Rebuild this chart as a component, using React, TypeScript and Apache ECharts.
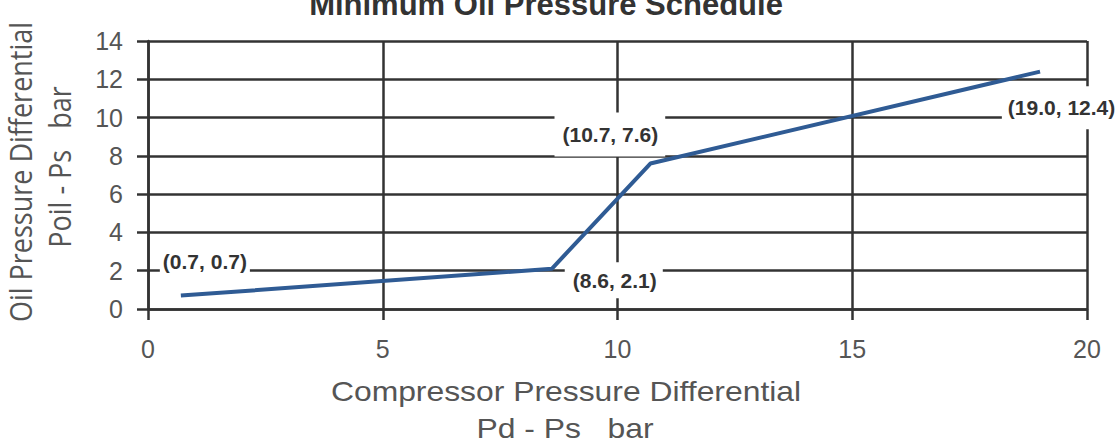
import React, { useEffect, useRef } from "react";
import * as echarts from "echarts";

const chartTitle = "Minimum Oil Pressure Schedule";
const xAxisTitle = ["Compressor Pressure Differential", "Pd - Ps   bar"];
const yAxisTitle = ["Oil Pressure Differential", "Poil - Ps   bar"];

const pdPs = [0.7, 8.6, 10.7, 19.0];
const poilPs = [0.7, 2.1, 7.6, 12.4];

const xMin = 0;
const xMax = 20;
const xStep = 5;
const yMin = 0;
const yMax = 14;
const yStep = 2;

// label placement (box offsets in px, padding [t, r, b, l])
const labelOffsets = [
  [24, -34.5],
  [62, 11.5],
  [-40.5, -29],
  [20.5, 36],
];
const labelPaddings = [
  [2, 3, 5, 3],
  [9, 6, 6, 8],
  [14, 7, 9, 8],
  [14, 4, 8, 6],
];

const GRID = "#333333";
const TXT = "#555555";
const sans = "'Liberation Sans', Arial, Helvetica, sans-serif";
const open = "'Open Sans', 'Noto Sans', sans-serif";

export default function App() {
  const ref = useRef<HTMLDivElement>(null);

  useEffect(() => {
    if (!ref.current) return;
    const chart = echarts.init(ref.current, null, { renderer: "svg" });
    const points = pdPs.map((x, i) => [x, poilPs[i]]);

    const titleGraphics: any[] = [
      {
        type: "text",
        x: 546,
        y: 4,
        style: {
          text: chartTitle,
          font: `bold 31px ${sans}`,
          fill: "#333333",
          textAlign: "center",
          textVerticalAlign: "middle",
        },
      },
      {
        type: "text",
        x: 566,
        y: 391,
        scaleX: 1.18,
        style: {
          text: xAxisTitle[0],
          font: `27px ${sans}`,
          fill: TXT,
          textAlign: "center",
          textVerticalAlign: "middle",
        },
      },
      {
        type: "text",
        x: 565,
        y: 428,
        scaleX: 1.18,
        style: {
          text: xAxisTitle[1],
          font: `27px ${sans}`,
          fill: TXT,
          textAlign: "center",
          textVerticalAlign: "middle",
        },
      },
      {
        type: "text",
        x: 20,
        y: 172,
        rotation: Math.PI / 2,
        scaleY: 1.15,
        style: {
          text: yAxisTitle[0],
          font: `27px ${open}`,
          fill: TXT,
          textAlign: "center",
          textVerticalAlign: "middle",
        },
      },
      {
        type: "text",
        x: 59,
        y: 167,
        rotation: Math.PI / 2,
        scaleY: 1.15,
        style: {
          text: yAxisTitle[1],
          font: `27px ${open}`,
          fill: TXT,
          textAlign: "center",
          textVerticalAlign: "middle",
        },
      },
    ];

    chart.setOption({
      animation: false,
      backgroundColor: "#ffffff",
      grid: { left: 148, right: 28, top: 41, bottom: 135, containLabel: false },
      xAxis: {
        type: "value",
        min: xMin,
        max: xMax,
        interval: xStep,
        axisLine: { show: true, onZero: false, lineStyle: { color: GRID, width: 2.5 } },
        axisTick: { show: true, inside: false, length: 11, lineStyle: { color: GRID, width: 2.5 } },
        axisLabel: { show: true, margin: 27, color: TXT, fontSize: 25, fontFamily: sans },
        splitLine: { show: true, lineStyle: { color: GRID, width: 2.5 } },
      },
      yAxis: {
        type: "value",
        min: yMin,
        max: yMax,
        interval: yStep,
        axisLine: { show: true, onZero: false, lineStyle: { color: GRID, width: 2.5 } },
        axisTick: { show: true, inside: false, length: 11, lineStyle: { color: GRID, width: 2.5 } },
        axisLabel: { show: true, margin: 25, color: TXT, fontSize: 25, fontFamily: sans },
        splitLine: { show: true, lineStyle: { color: GRID, width: 2.5 } },
      },
      graphic: titleGraphics,
      series: [
        {
          type: "line",
          data: points,
          symbol: "none",
          z: 5,
          lineStyle: { color: "#2f5b94", width: 4 },
        },
      ],
    });

    const labelGraphics = points.map((p, i) => {
      const px = chart.convertToPixel({ gridIndex: 0 }, p) as number[];
      return {
        type: "text",
        z: 100,
        x: px[0] + labelOffsets[i][0],
        y: px[1] + labelOffsets[i][1],
        style: {
          text: `(${p[0].toFixed(1)}, ${p[1].toFixed(1)})`,
          font: `bold 21px ${sans}`,
          fill: "#333333",
          backgroundColor: "#ffffff",
          padding: labelPaddings[i],
          textAlign: "center",
          textVerticalAlign: "middle",
        },
      };
    });

    chart.setOption({ graphic: [...titleGraphics, ...labelGraphics] });

    return () => chart.dispose();
  }, []);

  return (
    <div
      ref={ref}
      style={{ position: "absolute", left: 0, top: 0, width: 1115, height: 444 }}
    />
  );
}
